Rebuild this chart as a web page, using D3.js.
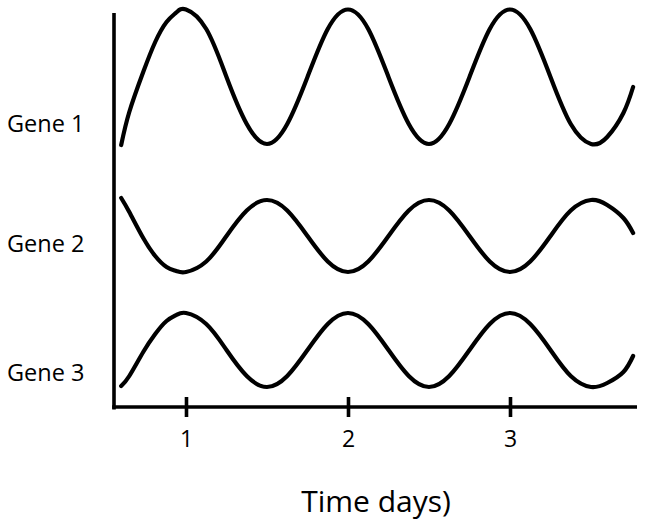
<!DOCTYPE html>
<html>
<head>
<meta charset="utf-8">
<script src="https://cdn.jsdelivr.net/npm/d3@7"></script>
<style>
  html, body { margin: 0; padding: 0; background: #fff; }
  text { font-family: "Open Sans", "Noto Sans", sans-serif; fill: #000; }
</style>
</head>
<body>
<svg id="chart" width="645" height="529"></svg>
<script>
// ---- data ----
const geneNames = ["Gene 1", "Gene 2", "Gene 3"];
const tickDays = [1, 2, 3];
const tickLabels = ["1", "2", "3"];
const xTitle = "Time days)";

const days = [0.6, 0.65, 0.736, 0.81, 0.88, 0.94, 1.0,
  1.125, 1.25, 1.375, 1.5, 1.625, 1.75, 1.875, 2.0,
  2.125, 2.25, 2.375, 2.5, 2.625, 2.75, 2.875, 3.0,
  3.125, 3.25, 3.375, 3.5, 3.6, 3.7, 3.76];

const gene1 = [263, 296, 336, 366, 386, 395.5, 398.5,
  379, 331, 284, 264, 284, 331, 379, 398.5,
  379, 331, 284, 264, 284, 331, 379, 398.5,
  379, 331, 284, 264, 271, 295, 321];

const gene2 = [210, 196, 170, 152, 141, 137, 136,
  146.5, 172, 197.5, 208, 197.5, 172, 146.5, 136,
  146.5, 172, 197.5, 208, 197.5, 172, 146.5, 136,
  146.5, 172, 197.5, 208, 203, 190, 175];

const gene3 = [22, 32, 56, 74, 87, 93, 95,
  84, 58, 32, 21, 32, 58, 84, 95,
  84, 58, 32, 21, 32, 58, 84, 95,
  84, 58, 32, 21, 25, 36, 52];

// label anchor levels (expression units on the shared y scale)
const labelLevels = [276, 156, 27];

// ---- drawing ----
const svg = d3.select("#chart");
const x = d3.scaleLinear().domain([0.5556, 3.784]).range([114, 637]);
const y = d3.scaleLinear().domain([0, 400]).range([408, 8]);

const line = d3.line()
  .x(d => x(d[0]))
  .y(d => y(d[1]))
  .curve(d3.curveNatural);

[gene1, gene2, gene3].forEach(vals => {
  svg.append("path")
    .datum(days.map((d, i) => [d, vals[i]]))
    .attr("d", line)
    .attr("fill", "none")
    .attr("stroke", "#000")
    .attr("stroke-width", 4.2)
    .attr("stroke-linecap", "round")
    .attr("stroke-linejoin", "round");
});

// y axis line
svg.append("line")
  .attr("x1", x.range()[0]).attr("x2", x.range()[0])
  .attr("y1", y(395)).attr("y2", y(-1.5))
  .attr("stroke", "#000").attr("stroke-width", 3.6);

// x axis
const xAxis = d3.axisBottom(x)
  .tickValues(tickDays)
  .tickFormat((d, i) => tickLabels[i])
  .tickSizeOuter(0)
  .tickSizeInner(10)
  .tickPadding(14);

const gx = svg.append("g")
  .attr("transform", `translate(0,${y(1)})`)
  .call(xAxis);
gx.select(".domain").attr("stroke", "#000").attr("stroke-width", 3.6)
  .attr("d", `M${x.range()[0] - 1.8},0H${x.range()[1]}`);
gx.selectAll(".tick line").attr("y1", -10).attr("y2", 10)
  .attr("stroke", "#000").attr("stroke-width", 3.6);
gx.selectAll(".tick text")
  .attr("font-family", "Open Sans")
  .attr("font-size", 23)
  .attr("fill", "#000")
  .attr("dy", "0.71em");

// gene labels
svg.selectAll("text.gene")
  .data(geneNames)
  .join("text")
  .attr("class", "gene")
  .attr("x", 7)
  .attr("y", (d, i) => y(labelLevels[i]))
  .attr("font-size", 23.5)
  .text(d => d);

// x title
svg.append("text")
  .attr("x", 376)
  .attr("y", 512)
  .attr("text-anchor", "middle")
  .attr("font-size", 30)
  .text(xTitle);
</script>
</body>
</html>
